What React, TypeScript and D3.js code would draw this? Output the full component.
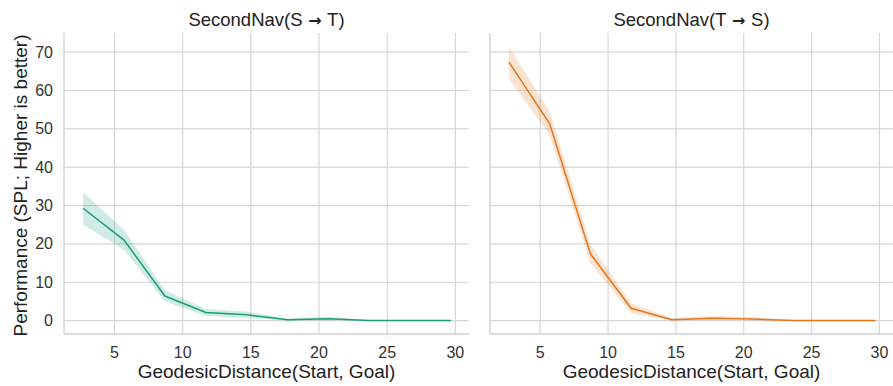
import React from 'react';
import * as d3 from 'd3';

const distances = [2.7, 5.7, 8.7, 11.7, 14.7, 17.7, 20.7, 23.7, 26.7, 29.7];

const stMean = [29.3, 21.0, 6.4, 2.1, 1.5, 0.2, 0.5, 0.0, 0.0, 0.0];
const stLow = [25.0, 18.4, 5.0, 1.2, 0.7, 0.0, 0.1, 0.0, 0.0, 0.0];
const stHigh = [33.4, 23.7, 8.0, 3.0, 2.4, 0.5, 1.0, 0.1, 0.0, 0.0];

const tsMean = [67.4, 51.3, 17.4, 3.2, 0.2, 0.6, 0.4, 0.0, 0.0, 0.0];
const tsLow = [63.0, 48.4, 15.0, 1.9, 0.0, 0.2, 0.1, 0.0, 0.0, 0.0];
const tsHigh = [71.5, 54.5, 19.9, 4.5, 0.6, 1.2, 0.9, 0.1, 0.0, 0.0];

const xTicks = [5, 10, 15, 20, 25, 30];
const yTicks = [0, 10, 20, 30, 40, 50, 60, 70];

const panels = [
  { from: 'S', to: 'T', mean: stMean, low: stLow, high: stHigh, color: '#1b9e77', left: 64, right: 469 },
  { from: 'T', to: 'S', mean: tsMean, low: tsLow, high: tsHigh, color: '#e6751a', left: 490, right: 893 },
];

const FONT = '"Liberation Sans", Arial, sans-serif';
const TOP = 33;
const BOTTOM = 334;

const y = d3.scaleLinear().domain([-3.5, 75]).range([BOTTOM, TOP]);

const Panel = ({ p, showY }: { p: typeof panels[0]; showY: boolean }) => {
  const x = d3.scaleLinear().domain([1.3, 31]).range([p.left, p.right]);
  const idx = d3.range(distances.length);
  const line = d3.line<number>().x(i => x(distances[i])).y(i => y(p.mean[i]));
  const band = d3
    .area<number>()
    .x(i => x(distances[i]))
    .y0(i => y(p.low[i]))
    .y1(i => y(p.high[i]));
  const mid = (p.left + p.right) / 2;
  return (
    <g>
      {yTicks.map(t => (
        <line key={'gy' + t} x1={p.left} x2={p.right} y1={y(t)} y2={y(t)} stroke="#d6d6d6" strokeWidth={1.2} />
      ))}
      {xTicks.map(t => (
        <line key={'gx' + t} x1={x(t)} x2={x(t)} y1={TOP} y2={BOTTOM} stroke="#d6d6d6" strokeWidth={1.2} />
      ))}
      <line x1={p.left} x2={p.left} y1={TOP} y2={BOTTOM} stroke="#d0d0d0" strokeWidth={1.3} />
      <line x1={p.left} x2={p.right} y1={BOTTOM} y2={BOTTOM} stroke="#d0d0d0" strokeWidth={1.3} />
      <path d={band(idx) || ''} fill={p.color} fillOpacity={0.2} />
      <path d={line(idx) || ''} fill="none" stroke={p.color} strokeWidth={1.5} />
      {xTicks.map(t => (
        <text key={'tx' + t} x={x(t)} y={358} textAnchor="middle" fontSize={16} fill="#333">
          {t}
        </text>
      ))}
      {showY &&
        yTicks.map(t => (
          <text key={'ty' + t} x={53} y={y(t) + 5.5} textAnchor="end" fontSize={16} fill="#333">
            {t}
          </text>
        ))}
      <text x={mid} y={26} textAnchor="middle" fontSize={18.5} fill="#222">
        SecondNav({p.from}
        <tspan fontFamily="DejaVu Sans" fontWeight="bold" fontSize={16}>
          {' \u2192 '}
        </tspan>
        {p.to})
      </text>
      <text x={mid} y={378} textAnchor="middle" fontSize={19} fill="#222">
        GeodesicDistance(Start, Goal)
      </text>
    </g>
  );
};

export default function App() {
  return (
    <svg
      width={893}
      height={386}
      style={{ position: 'absolute', left: 0, top: 0, background: '#fff' }}
      fontFamily={FONT}
    >
      <rect width={893} height={386} fill="#fff" />
      {panels.map((p, i) => (
        <Panel key={p.from} p={p} showY={i === 0} />
      ))}
      <text
        transform={`translate(27,${(TOP + BOTTOM) / 2 + 2}) rotate(-90)`}
        textAnchor="middle"
        fontSize={19}
        fill="#222"
      >
        Performance (SPL; Higher is better)
      </text>
    </svg>
  );
}
